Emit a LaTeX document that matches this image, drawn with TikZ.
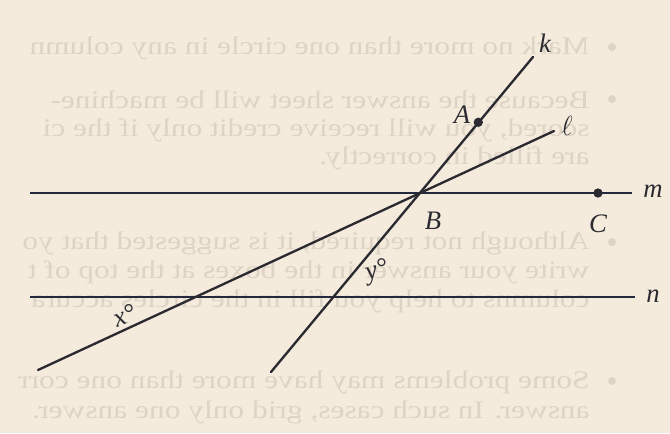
\documentclass[tikz,border=0pt]{standalone}
\usepackage{fontspec}
\setmainfont{Liberation Serif}
\usetikzlibrary{calc}
\definecolor{paper}{HTML}{F4EBDC}
\definecolor{ghost}{HTML}{DED4C5}
\definecolor{ink}{HTML}{2A2A30}
\definecolor{inkblue}{HTML}{25293F}
\begin{document}
\begin{tikzpicture}[x=0.75pt,y=-0.75pt,
  geoline/.style={ink, line width=1.75pt, line cap=round},
  parline/.style={inkblue, line width=2.1pt},
  ptdot/.style={circle, fill=ink, inner sep=0pt, minimum size=7pt},
  lbl/.style={font=\fontsize{20}{20}\selectfont\itshape, text=ink, inner sep=0pt},
  ghosttext/.style={xscale=-1.24, anchor=west, font=\fontsize{19}{19}\selectfont, text=ghost, inner sep=0pt},
  ghostdot/.style={circle, fill=ghost, inner sep=0pt, minimum size=6pt}]
\fill[paper] (0,0) rectangle (670,433);
\useasboundingbox (0,0) rectangle (670,433);
% faint show-through text (mirrored)
\node[ghosttext] (g1) at (590,48) {Mark no more than one circle in any column};
\node[ghosttext] (g2) at (590,100) {Because the answer sheet will be machine-};
\node[ghosttext] (g3) at (590,130) {scored, you will receive credit only if the ci};
\node[ghosttext] (g4) at (590,158) {are filled in correctly.};
\node[ghosttext] (g5) at (590,243) {Although not required, it is suggested that yo};
\node[ghosttext] (g6) at (590,272) {write your answer in the boxes at the top of t};
\node[ghosttext] (g7) at (590,301) {columns to help you fill in the circles accura};
\node[ghosttext] (g8) at (590,382) {Some problems may have more than one corr};
\node[ghosttext] (g9) at (590,412) {answer. In such cases, grid only one answer.};
\node[ghostdot] (b1) at (612,47) {};
\node[ghostdot] (b2) at (612,99) {};
\node[ghostdot] (b5) at (612,242) {};
\node[ghostdot] (b8) at (612,381) {};
% geometry
\coordinate (B) at (419,193);
\coordinate (m1) at (30,193);
\coordinate (m2) at (632,193);
\coordinate (n1) at (30,297);
\coordinate (n2) at (635,297);
\coordinate (kb) at (271,372);
\coordinate (kt) at (533,57);
\coordinate (lb) at (38,370);
\coordinate (lt) at (554,131);
\draw[parline] (m1) -- (m2);
\draw[parline] (n1) -- (n2);
\draw[geoline] (kb) -- (kt);
\draw[geoline] (lb) -- (lt);
\node[ptdot] (A) at ($(B)!0.52!(kt)$) {};
\node[ptdot] (C) at (598,193) {};
% labels
\node[lbl] (labk) at (545,43) {k};
\node[lbl] (labA) at (462,115) {A};
\node[lbl] (labl) at (567,126) {$\ell$};
\node[lbl] (labm) at (653,191) {m};
\node[lbl] (labB) at (433,221) {B};
\node[lbl] (labC) at (598,224) {C};
\node[lbl] (labn) at (653,296) {n};
\node[lbl, rotate=15] (laby) at (377,272) {y°};
\node[lbl, rotate=22] (labx) at (125,315) {x°};
\end{tikzpicture}
\end{document}
